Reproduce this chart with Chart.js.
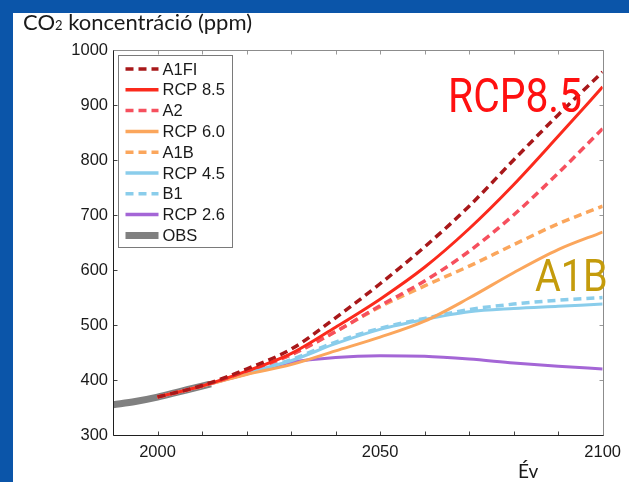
<!DOCTYPE html>
<html>
<head>
<meta charset="utf-8">
<script src="https://cdn.jsdelivr.net/npm/chart.js@4/dist/chart.umd.min.js"></script>
<style>
  body { margin: 0; width: 629px; height: 482px; background: #0b55a9; overflow: hidden; position: relative; }
  #panel { position: absolute; left: 13px; top: 13px; width: 616px; height: 469px; background: #fff; }
  #co2Chart { position: absolute; left: 0; top: 0; }
  .title { position: absolute; left: 23px; top: 8px; font: 22px Lato, sans-serif; color: #1a1a1a; white-space: nowrap; }
  .title sub { font-size: 13px; vertical-align: 0; }
  .xlabel { position: absolute; left: 518px; top: 459px; font: 19px Lato, sans-serif; color: #1a1a1a; }
  .note { position: absolute; font-family: Roboto, sans-serif; white-space: nowrap; transform-origin: 0 0; }
  #rcpNote { left: 448px; top: 67px; font-size: 48px; color: #ff1010; transform: scaleX(0.85); }
  #a1bNote { left: 535px; top: 249px; font-size: 45px; color: #c49b0c; transform: scaleX(0.88); }
</style>
</head>
<body>
<div id="panel"></div>
<canvas id="co2Chart" width="629" height="482"></canvas>
<div class="title">CO<sub>2</sub> koncentráció (ppm)</div>
<div class="xlabel">Év</div>
<div class="note" id="rcpNote">RCP8.5</div>
<div class="note" id="a1bNote">A1B</div>
<script>
// values (ppm)
const scenarioYears = [2000, 2010, 2020, 2030, 2040, 2050, 2060, 2070, 2080, 2090, 2100];
const a1fi  = [369, 390, 420, 456, 513, 575, 642, 716, 800, 882, 960];
const rcp85 = [369, 389, 416, 448, 496, 547, 605, 675, 755, 843, 933];
const a2    = [369, 389, 416, 446, 488, 535, 580, 634, 700, 776, 857];
const rcp60 = [369, 389, 410, 428, 453, 478, 507, 549, 595, 637, 669];
const a1b   = [369, 389, 417, 446, 488, 533, 571, 607, 646, 684, 716];
const rcp45 = [369, 389, 413, 435, 466, 492, 510, 524, 530, 534, 538];
const b1    = [369, 389, 413, 437, 469, 494, 512, 528, 538, 545, 550];
const rcp26 = [369, 389, 411, 432, 441, 444, 443, 438, 431, 425, 420];

const obsYears = [1990, 1995, 2000, 2005, 2010, 2012];
const obs      = [355, 361, 369, 379, 389, 393];

const xLabelYears = [2000, 2050, 2100];
const xTickYears = [2000, 2010, 2020, 2030, 2040, 2050, 2060, 2070, 2080, 2090, 2100];
const yTickValues = [300, 400, 500, 600, 700, 800, 900, 1000];

const toPoints = (xs, ys) => xs.map((x, i) => ({ x: x, y: ys[i] }));

function series(label, values, color, dashed) {
  return {
    label: label,
    data: toPoints(scenarioYears, values),
    borderColor: color,
    borderWidth: dashed ? 3.5 : 3,
    borderDash: dashed ? [8, 5] : [],
    pointRadius: 0,
    cubicInterpolationMode: "monotone",
    fill: false,
  };
}

const datasets = [
  series("A1FI", a1fi, "#a8181a", true),
  series("RCP 8.5", rcp85, "#fb2a1c", false),
  series("A2", a2, "#f6505e", true),
  series("RCP 6.0", rcp60, "#fba65c", false),
  series("A1B", a1b, "#fba65c", true),
  series("RCP 4.5", rcp45, "#8acdeb", false),
  series("B1", b1, "#8acdeb", true),
  series("RCP 2.6", rcp26, "#a466d6", false),
  {
    label: "OBS",
    data: toPoints(obsYears, obs),
    borderColor: "#808080",
    borderWidth: 7,
    borderDash: [],
    pointRadius: 0,
    cubicInterpolationMode: "monotone",
    fill: false,
  },
];

// inward ticks, axis box and the legend inside the plot (MATLAB look)
const framePlugin = {
  id: "frame",
  afterDraw(chart) {
    const ctx = chart.ctx;
    const a = chart.chartArea;
    const x = chart.scales.x;
    const y = chart.scales.y;
    ctx.save();
    ctx.setLineDash([]);
    ctx.lineWidth = 1;

    const l = Math.round(a.left) + 0.5, r = Math.round(a.right) + 0.5;
    const t = Math.round(a.top) + 0.5, b = Math.round(a.bottom) + 0.5;

    xTickYears.forEach((v) => {
      const px = Math.round(x.getPixelForValue(v)) + 0.5;
      ctx.strokeStyle = "#444";
      ctx.beginPath(); ctx.moveTo(px, b); ctx.lineTo(px, b - 4); ctx.stroke();
      ctx.strokeStyle = "#999";
      ctx.beginPath(); ctx.moveTo(px, t); ctx.lineTo(px, t + 4); ctx.stroke();
    });
    yTickValues.forEach((v) => {
      const py = Math.round(y.getPixelForValue(v)) + 0.5;
      ctx.strokeStyle = "#444";
      ctx.beginPath(); ctx.moveTo(l, py); ctx.lineTo(l + 4, py); ctx.stroke();
      ctx.strokeStyle = "#999";
      ctx.beginPath(); ctx.moveTo(r, py); ctx.lineTo(r - 4, py); ctx.stroke();
    });

    ctx.strokeStyle = "#8c8c8c";
    ctx.beginPath(); ctx.moveTo(l, t); ctx.lineTo(r, t); ctx.lineTo(r, b); ctx.stroke();
    ctx.strokeStyle = "#1f1f1f";
    ctx.beginPath(); ctx.moveTo(l, t); ctx.lineTo(l, b); ctx.lineTo(r, b); ctx.stroke();

    // legend box
    const bx = l + 5, by = t + 5, bw = 114, bh = 192;
    ctx.fillStyle = "#fff";
    ctx.fillRect(bx, by, bw, bh);
    ctx.strokeStyle = "#7a7a7a";
    ctx.strokeRect(bx, by, bw, bh);
    ctx.font = "16.5px 'Liberation Sans', Arial, sans-serif";
    ctx.textBaseline = "middle";
    ctx.fillStyle = "#1a1a1a";
    chart.data.datasets.forEach((ds, i) => {
      const cy = by + 13.5 + i * 20.8;
      ctx.save();
      ctx.strokeStyle = ds.borderColor;
      ctx.lineWidth = ds.label === "OBS" ? 7 : 3.5;
      ctx.setLineDash(ds.borderDash);
      ctx.beginPath(); ctx.moveTo(bx + 7, cy); ctx.lineTo(bx + 40, cy); ctx.stroke();
      ctx.restore();
      ctx.fillText(ds.label, bx + 44, cy + 1);
    });
    ctx.restore();
  },
};

const tickFont = { family: "'Liberation Sans', Arial, sans-serif", size: 16.5 };

const config = {
  type: "line",
  data: { datasets: datasets },
  options: {
    responsive: false,
    animation: false,
    layout: { padding: { top: 50, right: 26, left: 0, bottom: 0 } },
    plugins: { legend: { display: false }, tooltip: { enabled: false } },
    scales: {
      x: {
        type: "linear",
        min: 1990,
        max: 2100,
        grid: { display: false, drawTicks: false },
        border: { display: false },
        ticks: {
          font: tickFont, color: "#1a1a1a", padding: 8, maxRotation: 0, autoSkip: false,
          callback: (v) => String(v),
        },
        afterBuildTicks: (s) => { s.ticks = xLabelYears.map((v) => ({ value: v })); },
        afterFit: (s) => { s.height = 47; },
      },
      y: {
        min: 300,
        max: 1000,
        grid: { display: false, drawTicks: false },
        border: { display: false },
        ticks: {
          font: tickFont, color: "#1a1a1a", padding: 5, stepSize: 100,
          callback: (v) => String(v),
        },
        afterFit: (s) => { s.width = 113; },
      },
    },
  },
  plugins: [framePlugin],
};

const co2Chart = new Chart(document.getElementById("co2Chart").getContext("2d"), config);
</script>
</body>
</html>
